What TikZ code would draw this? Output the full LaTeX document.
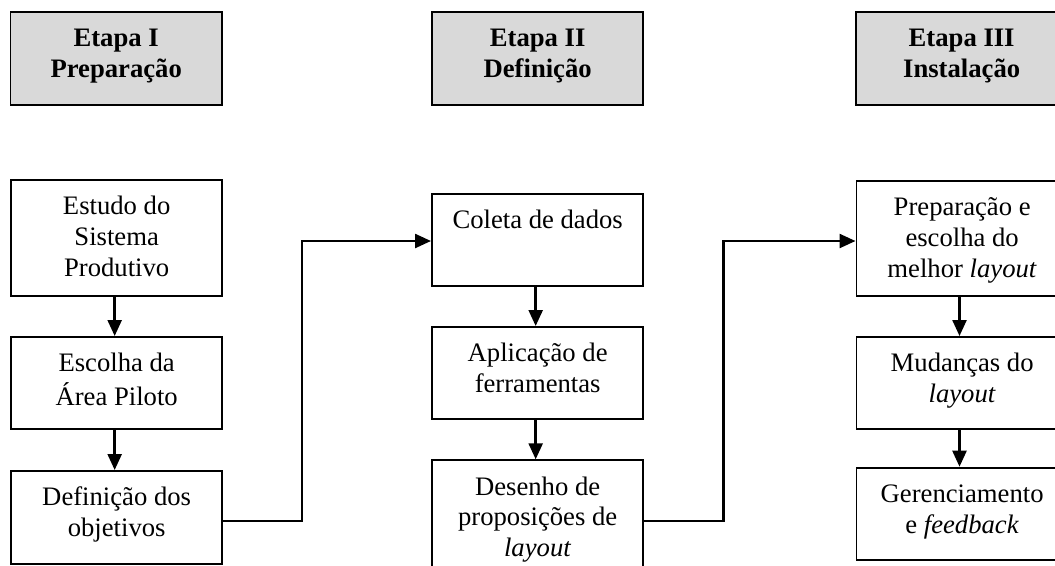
\documentclass[tikz,border=0pt]{standalone}
\usepackage{fontspec}
\setmainfont{Liberation Serif}
\usetikzlibrary{arrows.meta}
\definecolor{hdrgray}{RGB}{217,217,217}
\begin{document}
\begin{tikzpicture}[x=0.75pt,y=-0.75pt,
  box/.style={draw=black,line width=1.4pt,rectangle,inner sep=0pt,anchor=north west,minimum width=158.6pt},
  hdr/.style={box,fill=hdrgray,minimum height=69.75pt},
  txt/.style={align=center,inner sep=0pt,anchor=north,font=\fontsize{20}{23}\selectfont},
  htxt/.style={txt,font=\fontsize{20}{23}\selectfont\bfseries},
  arr/.style={line width=1.8pt,-{Triangle[length=12pt,width=10.5pt]}},
  lnk/.style={line width=1.8pt,-{Triangle[length=12pt,width=10.5pt]}}]
\useasboundingbox (0,0) rectangle (1055,565);
\clip (0,0) rectangle (1055,565);
\fill[white] (0,0) rectangle (1055,565);
% headers
\node[hdr] (H1) at (9.5,11) {};
\node[hdr] (H2) at (431,11) {};
\node[hdr] (H3) at (855,11) {};
\node[htxt] (h1t) at ([yshift=-10.5pt]H1.north) {\strut Etapa I\\Preparação};
\node[htxt] (h2t) at ([yshift=-10.5pt]H2.north) {\strut Etapa II\\Definição};
\node[htxt] (h3t) at ([yshift=-10.5pt]H3.north) {\strut Etapa III\\Instalação};
% column 1
\node[box,minimum height=87pt] (B1) at (10,179) {};
\node[box,minimum height=69pt] (B2) at (10,336) {};
\node[box,minimum height=69.5pt] (B3) at (10,470) {};
\node[txt] (b1t) at ([yshift=-10.5pt]B1.north) {\strut Estudo do\\Sistema\\Produtivo};
\node[txt] (b2t) at ([yshift=-10.5pt]B2.north) {\strut Escolha da\\Área Piloto};
\node[txt] (b3t) at ([yshift=-10.5pt]B3.north) {\strut Definição dos\\objetivos};
% column 2
\node[box,minimum height=69.2pt] (C1) at (431,192.7) {};
\node[box,minimum height=69.2pt] (C2) at (431,326) {};
\node[box,minimum height=97.5pt] (C3) at (431,459.3) {};
\node[txt] (c1t) at ([yshift=-10.5pt]C1.north) {\strut Coleta de dados};
\node[txt] (c2t) at ([yshift=-10.5pt]C2.north) {\strut Aplicação de\\ferramentas};
\node[txt] (c3t) at ([yshift=-10.5pt]C3.north) {\strut Desenho de\\proposições de\\\textit{layout}};
% column 3
\node[box,minimum height=86.25pt] (D1) at (855.5,180) {};
\node[box,minimum height=69pt] (D2) at (855.5,336) {};
\node[box,minimum height=69.5pt] (D3) at (855.5,466.7) {};
\node[txt] (d1t) at ([yshift=-10.5pt]D1.north) {\strut Preparação e\\escolha do\\melhor \textit{layout}};
\node[txt] (d2t) at ([yshift=-10.5pt]D2.north) {\strut Mudanças do\\\textit{layout}};
\node[txt] (d3t) at ([yshift=-10.5pt]D3.north) {\strut Gerenciamento\\e \textit{feedback}};
% vertical arrows
\draw[arr] ([xshift=-1.5pt]B1.south) -- ([xshift=-1.5pt]B2.north);
\draw[arr] ([xshift=-1.5pt]B2.south) -- ([xshift=-1.5pt]B3.north);
\draw[arr] ([xshift=-1.5pt]C1.south) -- ([xshift=-1.5pt]C2.north);
\draw[arr] ([xshift=-1.5pt]C2.south) -- ([xshift=-1.5pt]C3.north);
\draw[arr] ([xshift=-2pt]D1.south) -- ([xshift=-2pt]D2.north);
\draw[arr] ([xshift=-2pt]D2.south) -- ([xshift=-2pt]D3.north);
% links between stages
\coordinate (k1) at (301.7,520.7);
\coordinate (k2) at (301.7,241);
\coordinate (k3) at (723.3,520.7);
\coordinate (k4) at (723.3,241);
\draw[lnk] (B3.east |- k1) -- (k1) -- (k2) -- (C1.west |- k2);
\draw[lnk] (C3.east |- k3) -- (k3) -- (k4) -- (D1.west |- k4);
\end{tikzpicture}
\end{document}
